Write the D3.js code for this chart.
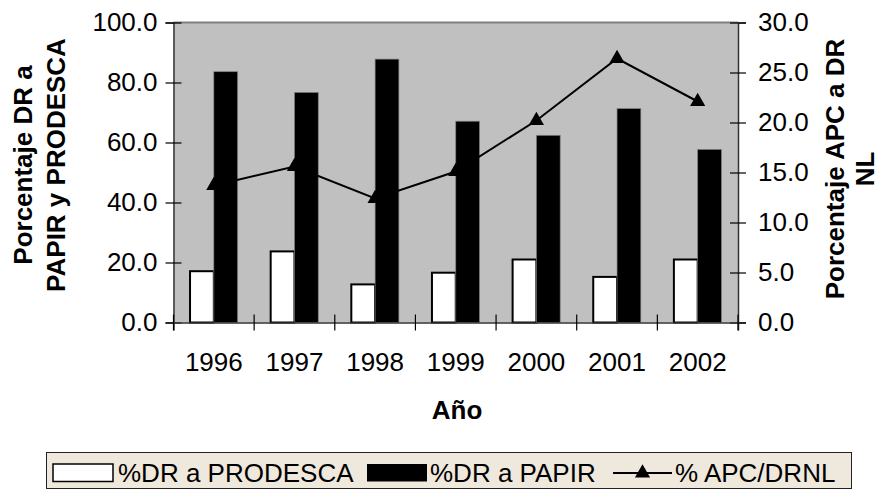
<!DOCTYPE html>
<html><head><meta charset="utf-8">
<script src="https://cdn.jsdelivr.net/npm/d3@7"></script>
<style>
body{margin:0;background:#fff;}
text{font-family:"Liberation Sans",Arial,sans-serif;fill:#000;}
</style></head><body>
<svg id="chart" width="884" height="491"></svg>
<script>
const years = ["1996","1997","1998","1999","2000","2001","2002"];
const prodesca = [17.1, 23.7, 12.7, 16.6, 21.0, 15.2, 21.0];
const papir = [83.6, 76.7, 87.8, 67.1, 62.4, 71.3, 57.7];
const apc = [13.7, 15.6, 12.4, 15.1, 20.2, 26.4, 22.1];
const leftTicks = [0, 20, 40, 60, 80, 100];
const rightTicks = [0, 5, 10, 15, 20, 25, 30];
const seriesNames = ["%DR a PRODESCA", "%DR a PAPIR", "% APC/DRNL"];

const svg = d3.select("#chart");
const L = 173.5, R = 738, T = 22.5, B = 322.5;
const FS = 26;
const x = d3.scaleBand().domain(years).range([L, R]).paddingInner(0).paddingOuter(0);
const yL = d3.scaleLinear().domain([0, 100]).range([B, T]);
const yR = d3.scaleLinear().domain([0, 30]).range([B, T]);
const bw = x.bandwidth() * 0.295;

svg.append("rect").attr("x", L).attr("y", T).attr("width", R - L).attr("height", B - T).attr("fill", "#c0c0c0");
svg.append("line").attr("x1", L).attr("x2", R).attr("y1", T).attr("y2", T).attr("stroke", "#808080").attr("stroke-width", 2);

// bars
svg.selectAll(".bp").data(years).enter().append("rect")
  .attr("x", d => x(d) + x.bandwidth() / 2 - bw)
  .attr("y", (d, i) => yL(prodesca[i]))
  .attr("width", bw).attr("height", (d, i) => B - yL(prodesca[i]))
  .attr("fill", "#fff").attr("stroke", "#000").attr("stroke-width", 2);
svg.selectAll(".bk").data(years).enter().append("rect")
  .attr("x", d => x(d) + x.bandwidth() / 2)
  .attr("y", (d, i) => yL(papir[i]))
  .attr("width", bw).attr("height", (d, i) => B - yL(papir[i]))
  .attr("fill", "#000").attr("stroke", "#808080").attr("stroke-width", 0.7);

// axes
const gL = svg.append("g").attr("transform", `translate(${L},0)`)
  .call(d3.axisLeft(yL).tickValues(leftTicks).tickFormat(d3.format(".1f")).tickSize(8).tickPadding(8));
const gR = svg.append("g").attr("transform", `translate(${R},0)`)
  .call(d3.axisRight(yR).tickValues(rightTicks).tickFormat(d3.format(".1f")).tickSize(8).tickPadding(12));
const gB = svg.append("g").attr("transform", `translate(0,${B})`)
  .call(d3.axisBottom(x).tickSize(8).tickPadding(22));
[gL, gR, gB].forEach(g => {
  g.select(".domain").attr("stroke", "#333").attr("stroke-width", 1.5);
  g.selectAll(".tick line").attr("stroke", "#000").attr("stroke-width", 1.2);
  g.selectAll("text").attr("font-size", FS).attr("font-family", "Liberation Sans, Arial, sans-serif").attr("fill", "#000");
});
gL.selectAll(".tick line").attr("x1", 8).attr("x2", -8);
gR.selectAll(".tick line").attr("x1", -8).attr("x2", 8);
gB.selectAll(".tick line").remove();
const bounds = years.map(d => x(d)).concat([R]);
svg.selectAll(".xb").data(bounds).enter().append("line")
  .attr("x1", d => d).attr("x2", d => d).attr("y1", B - 8).attr("y2", B + 8)
  .attr("stroke", "#000").attr("stroke-width", 1.2);

// line series
const line = d3.line().x((d, i) => x(years[i]) + x.bandwidth() / 2).y(d => yR(d));
svg.append("path").datum(apc).attr("d", line).attr("fill", "none").attr("stroke", "#000").attr("stroke-width", 2);
const tri = d3.symbol().type(d3.symbolTriangle).size(100);
svg.selectAll(".tri").data(apc).enter().append("path")
  .attr("d", tri)
  .attr("transform", (d, i) => `translate(${x(years[i]) + x.bandwidth() / 2},${yR(d)})`)
  .attr("fill", "#000");

// axis titles
function vtitle(tx, ty, s) {
  svg.append("text").attr("transform", `translate(${tx},${ty}) rotate(-90)`).attr("text-anchor", "middle")
    .attr("font-size", FS).attr("font-weight", "bold").text(s);
}
vtitle(32, 165, "Porcentaje DR a");
vtitle(65, 165, "PAPIR y PRODESCA");
vtitle(844, 169, "Porcentaje APC a DR");
vtitle(874, 169, "NL");
svg.append("text").attr("x", 457).attr("y", 419).attr("text-anchor", "middle")
  .attr("font-size", FS).attr("font-weight", "bold").text("Año");

// legend
const lg = svg.append("g");
lg.append("rect").attr("x", 46.5).attr("y", 452.5).attr("width", 805).attr("height", 36)
  .attr("fill", "#efe8dc").attr("stroke", "#222").attr("stroke-width", 1);
const ly = 481.5;
lg.append("rect").attr("x", 53).attr("y", 464).attr("width", 60).attr("height", 17.5).attr("fill", "#fff").attr("stroke", "#000").attr("stroke-width", 1.5);
lg.append("text").attr("x", 118).attr("y", ly).attr("font-size", FS).text(seriesNames[0]);
lg.append("rect").attr("x", 367).attr("y", 464).attr("width", 60).attr("height", 17.5).attr("fill", "#000");
lg.append("text").attr("x", 430).attr("y", ly).attr("font-size", FS).text(seriesNames[1]);
lg.append("line").attr("x1", 613).attr("x2", 672).attr("y1", 473).attr("y2", 473).attr("stroke", "#000").attr("stroke-width", 2);
lg.append("path").attr("d", tri).attr("transform", "translate(642.5,473)").attr("fill", "#000");
lg.append("text").attr("x", 675).attr("y", ly).attr("font-size", FS).text(seriesNames[2]);
</script></body></html>
